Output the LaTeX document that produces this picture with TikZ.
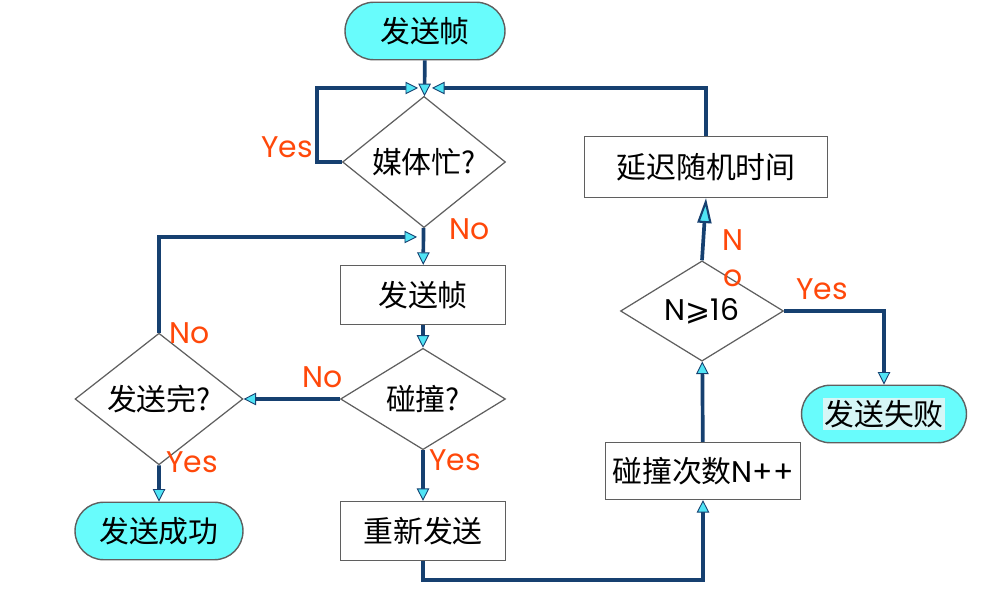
\documentclass[tikz,border=0pt]{standalone}
\usepackage{fontspec}
\setmainfont{Poppins}
\newfontfamily\cjk{Noto Sans CJK SC}
\newfontfamily\symb{DejaVu Sans}
\usetikzlibrary{arrows.meta,shapes.geometric,shapes.misc}
\definecolor{flowblue}{RGB}{22,64,112}
\definecolor{tipcyan}{RGB}{80,228,245}
\definecolor{termcyan}{RGB}{104,252,252}
\definecolor{failhl}{RGB}{214,246,246}
\definecolor{labred}{RGB}{255,72,10}
\definecolor{edgegray}{RGB}{95,95,95}

\begin{document}
\begin{tikzpicture}[x=0.02cm,y=-0.02cm,
        font=\fontsize{17}{19}\selectfont,
        term/.style={draw=edgegray,line width=0.8pt,fill=termcyan,rounded rectangle,minimum height=1.15cm,inner sep=0pt},
        box/.style={draw=edgegray,line width=0.7pt,rectangle,minimum height=1.18cm,inner sep=0pt},
        dec/.style={draw=edgegray,line width=0.7pt,diamond,minimum height=1.75cm,inner sep=0pt},
        flow/.style={draw=flowblue,line width=2.1pt,-{Triangle[length=0.25cm,width=0.25cm,fill=tipcyan,line width=0.5pt]}},
        bigflow/.style={draw=flowblue,line width=2.1pt,-{Triangle[length=0.5cm,width=0.28cm,fill=tipcyan,line width=1.2pt]}},
        lab/.style={text=labred,inner sep=0pt}]
        \useasboundingbox (0,0) rectangle (995,614);
        \node[term,minimum width=3.2cm] (start) at (425,31) {\cjk 发送帧};
        \node[dec,minimum width=3.26cm] (busy) at (424,162) {\cjk 媒体忙?};
        \node[box,minimum width=3.3cm] (frame) at (423,295) {\cjk 发送帧};
        \node[dec,minimum width=3.3cm] (collide) at (423,399) {\cjk 碰撞?};
        \node[dec,minimum width=3.36cm] (done) at (159,399) {\cjk 发送完?};
        \node[term,minimum width=3.36cm] (success) at (159,531) {\cjk 发送成功};
        \node[box,minimum width=3.3cm] (resend) at (423,531) {\cjk 重新发送};
        \node[box,minimum width=3.9cm,minimum height=1.14cm] (count) at (703,471) {{\cjk 碰撞次数}N++};
        \node[dec,minimum width=3.26cm] (limit) at (702,311) {N{\symb ⩾}16};
        \node[term,minimum width=3.3cm] (fail) at (884,414) {\cjk\setlength{\fboxsep}{1pt}\colorbox{failhl}{发送失败}};
        \node[box,minimum width=4.86cm,minimum height=1.22cm] (backoff) at (706,167) {\cjk 延迟随机时间};
        \coordinate (joinL) at (418,88);
        \coordinate (joinR) at (432,88);
        \coordinate (loopIn) at (417,237);
        \coordinate (busyLoop) at (317,88);
        \coordinate (bottomTurn) at (703,580);
        \draw[flow] (start) -- (busy);
        \draw[flow] (busy.west) -| (busyLoop) -- (joinL);
        \draw[flow] (backoff.north) |- (joinR);
        \draw[flow] (busy) -- (frame);
        \draw[flow] (frame) -- (collide);
        \draw[flow] (collide.west) -- (done.east);
        \draw[flow] (done.north) |- (loopIn);
        \draw[flow] (done) -- (success);
        \draw[flow] (collide) -- (resend);
        \draw[flow] (resend.south) |- (bottomTurn) -- (count.south);
        \draw[flow] (count) -- (limit);
        \draw[flow] (limit.east) -| (fail.north);
        \draw[bigflow] (limit.north) -- (backoff.south);
        \node[lab] at (287,147) {Yes};
        \node[lab] at (470,229) {No};
        \node[lab] at (190,333) {No};
        \node[lab] at (323,377) {No};
        \node[lab] at (192,462) {Yes};
        \node[lab] at (455,460) {Yes};
        \node[lab] at (733,240) {N};
        \node[lab] at (733,278) {o};
        \node[lab] at (822,289) {Yes};
    \end{tikzpicture}
\end{document}
